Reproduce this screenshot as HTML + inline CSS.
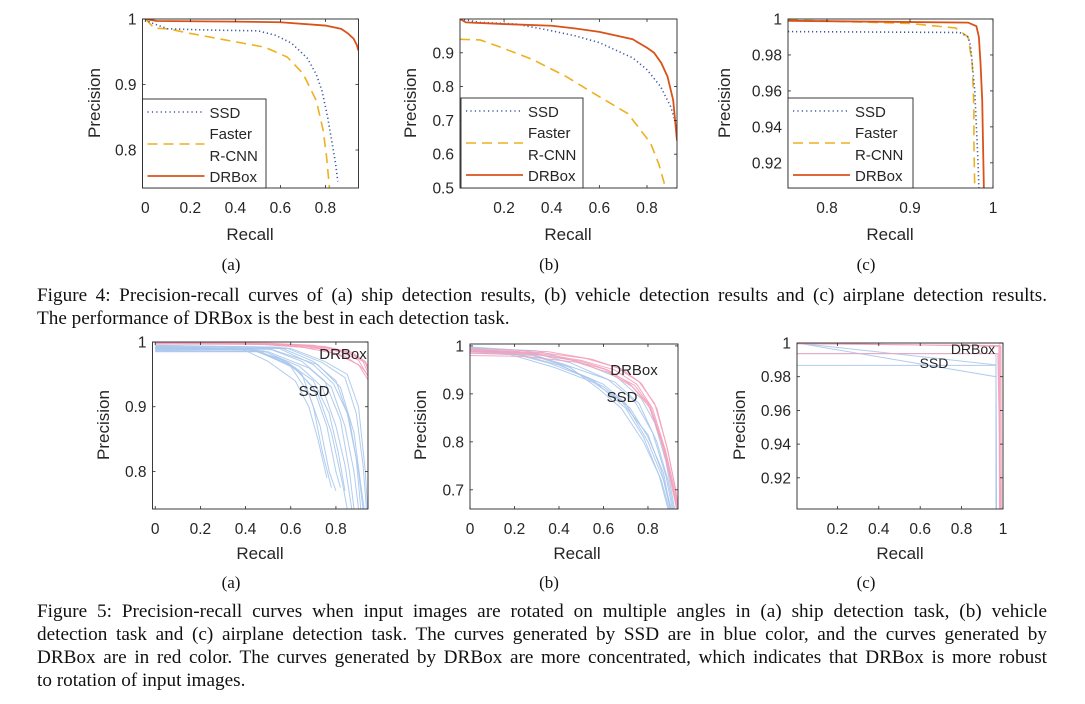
<!DOCTYPE html>
<html><head><meta charset="utf-8">
<style>
body{margin:0;background:#fff;width:1085px;height:704px;overflow:hidden;position:relative;font-family:"Liberation Serif",serif;}
svg{position:absolute;left:0;top:0}
.cap{position:absolute;left:37px;width:1010px;font-size:19.2px;line-height:23px;color:#111;font-family:"Liberation Serif",serif;}
.cap div{text-align:justify;text-align-last:justify;white-space:nowrap;}
.cap div.last{text-align-last:left}
</style></head>
<body>
<svg id="fig" width="1085" height="704"></svg>
<div class="cap" style="top:284px">
<div>Figure 4: Precision-recall curves of (a) ship detection results, (b) vehicle detection results and (c) airplane detection results.</div>
<div class="last">The performance of DRBox is the best in each detection task.</div>
</div>
<div class="cap" style="top:600px">
<div>Figure 5: Precision-recall curves when input images are rotated on multiple angles in (a) ship detection task, (b) vehicle</div>
<div>detection task and (c) airplane detection task. The curves generated by SSD are in blue color, and the curves generated by</div>
<div>DRBox are in red color. The curves generated by DRBox are more concentrated, which indicates that DRBox is more robust</div>
<div class="last">to rotation of input images.</div>
</div>
<script>
// ---- Figure 4 data ----
const ssdA = [[0,1],[0.02,0.995],[0.1,0.985],[0.3,0.983],[0.5,0.982],[0.58,0.975],[0.65,0.963],[0.72,0.94],[0.76,0.915],[0.785,0.89],[0.81,0.85],[0.83,0.81],[0.845,0.78],[0.855,0.752]];
const fasterA = [[0,1],[0.02,0.993],[0.04,0.986],[0.1,0.985],[0.2,0.978],[0.34,0.969],[0.53,0.957],[0.63,0.942],[0.7,0.917],[0.76,0.875],[0.79,0.83],[0.805,0.79],[0.818,0.742]];
const drboxA = [[0,1],[0.05,0.997],[0.4,0.996],[0.6,0.995],[0.8,0.99],[0.87,0.985],[0.9,0.978],[0.925,0.97],[0.94,0.96],[0.946,0.952]];
const ssdB = [[0.015,1.0],[0.1,0.99],[0.25,0.985],[0.38,0.968],[0.5,0.95],[0.6,0.93],[0.74,0.885],[0.8,0.85],[0.857,0.8],[0.9,0.74],[0.926,0.68]];
const fasterB = [[0.015,0.94],[0.1,0.938],[0.18,0.918],[0.32,0.88],[0.46,0.83],[0.6,0.77],[0.72,0.72],[0.815,0.633],[0.85,0.57],[0.878,0.5]];
const drboxB = [[0.015,1.0],[0.04,0.99],[0.2,0.985],[0.4,0.98],[0.5,0.972],[0.6,0.962],[0.74,0.94],[0.8,0.915],[0.83,0.9],[0.86,0.87],[0.886,0.83],[0.91,0.76],[0.926,0.64]];
const ssdC = [[0.753,0.993],[0.96,0.9925],[0.97,0.99],[0.973,0.985],[0.975,0.975],[0.978,0.96],[0.98,0.94],[0.982,0.92],[0.983,0.906]];
const fasterC = [[0.753,0.9995],[0.9,0.9975],[0.955,0.995],[0.97,0.99],[0.975,0.975],[0.977,0.95],[0.977,0.93],[0.978,0.906]];
const drboxC = [[0.753,0.999],[0.97,0.998],[0.98,0.996],[0.983,0.99],[0.985,0.975],[0.987,0.955],[0.988,0.93],[0.989,0.906]];
// ---- Figure 5 data ----
const rotSsdA = [
 [[0,0.99],[0.4,0.99],[0.55,0.975],[0.65,0.95],[0.7,0.9],[0.74,0.83],[0.78,0.775]],
 [[0,0.985],[0.45,0.985],[0.6,0.965],[0.7,0.93],[0.76,0.87],[0.8,0.8],[0.82,0.775]],
 [[0,0.992],[0.5,0.99],[0.65,0.97],[0.75,0.94],[0.82,0.88],[0.86,0.8],[0.88,0.742]],
 [[0,0.995],[0.55,0.992],[0.7,0.97],[0.8,0.94],[0.86,0.88],[0.9,0.8],[0.92,0.742]],
 [[0,0.988],[0.45,0.988],[0.62,0.96],[0.72,0.92],[0.78,0.86],[0.83,0.78],[0.85,0.742]],
 [[0,0.99],[0.6,0.99],[0.75,0.97],[0.85,0.95],[0.9,0.9],[0.93,0.8],[0.94,0.742]],
 [[0,0.993],[0.38,0.99],[0.5,0.97],[0.62,0.94],[0.68,0.9],[0.72,0.85],[0.76,0.79]],
 [[0,0.987],[0.5,0.985],[0.68,0.96],[0.78,0.93],[0.84,0.87],[0.88,0.8],[0.9,0.742]],
 [[0,0.991],[0.42,0.989],[0.58,0.97],[0.7,0.94],[0.77,0.89],[0.81,0.83],[0.84,0.77]],
 [[0,0.989],[0.52,0.988],[0.72,0.965],[0.82,0.93],[0.88,0.86],[0.91,0.78],[0.925,0.742]],
 [[0,0.986],[0.48,0.986],[0.64,0.962],[0.74,0.93],[0.8,0.87],[0.84,0.81],[0.87,0.742]],
 [[0,0.994],[0.58,0.991],[0.74,0.968],[0.84,0.945],[0.89,0.89],[0.92,0.81],[0.935,0.742]],
 [[0,0.99],[0.44,0.988],[0.6,0.962],[0.68,0.92],[0.73,0.87],[0.77,0.8],[0.8,0.77]],
 [[0,0.992],[0.55,0.99],[0.7,0.965],[0.79,0.935],[0.85,0.89],[0.89,0.82],[0.91,0.742]]
];
const rotDrA = [
 [[0,1],[0.5,0.998],[0.7,0.995],[0.85,0.985],[0.92,0.97],[0.945,0.95]],
 [[0,0.999],[0.45,0.997],[0.68,0.993],[0.82,0.985],[0.9,0.972],[0.945,0.945]],
 [[0,0.998],[0.55,0.997],[0.75,0.993],[0.87,0.984],[0.93,0.97],[0.945,0.96]],
 [[0,1],[0.4,0.998],[0.65,0.992],[0.8,0.982],[0.9,0.965],[0.945,0.94]],
 [[0,0.997],[0.6,0.996],[0.78,0.99],[0.88,0.98],[0.93,0.968],[0.945,0.955]],
 [[0,0.999],[0.5,0.996],[0.72,0.99],[0.84,0.978],[0.91,0.962],[0.945,0.948]]
];
const rotSsdB = [
 [[0,0.995],[0.2,0.985],[0.4,0.96],[0.6,0.92],[0.7,0.88],[0.8,0.8],[0.87,0.72],[0.9,0.66]],
 [[0,0.99],[0.2,0.983],[0.35,0.965],[0.55,0.93],[0.7,0.87],[0.78,0.81],[0.85,0.73],[0.89,0.66]],
 [[0,0.998],[0.25,0.99],[0.45,0.965],[0.62,0.93],[0.74,0.885],[0.82,0.82],[0.88,0.73],[0.91,0.66]],
 [[0,0.985],[0.3,0.98],[0.45,0.955],[0.58,0.91],[0.68,0.87],[0.78,0.8],[0.86,0.72],[0.895,0.66]],
 [[0,0.993],[0.22,0.988],[0.42,0.962],[0.65,0.925],[0.76,0.88],[0.84,0.8],[0.89,0.72],[0.915,0.66]],
 [[0,0.988],[0.18,0.982],[0.38,0.955],[0.55,0.925],[0.68,0.885],[0.8,0.815],[0.86,0.74],[0.905,0.66]],
 [[0,0.996],[0.3,0.99],[0.5,0.965],[0.66,0.935],[0.77,0.89],[0.83,0.84],[0.88,0.76],[0.92,0.66]],
 [[0,0.99],[0.25,0.985],[0.4,0.962],[0.6,0.915],[0.72,0.87],[0.8,0.81],[0.87,0.735],[0.9,0.66]]
];
const rotDrB = [
 [[0,0.99],[0.3,0.985],[0.5,0.97],[0.65,0.95],[0.75,0.92],[0.82,0.87],[0.88,0.78],[0.92,0.7],[0.935,0.66]],
 [[0,0.985],[0.3,0.982],[0.5,0.968],[0.62,0.95],[0.72,0.92],[0.8,0.88],[0.87,0.79],[0.91,0.7],[0.93,0.66]],
 [[0,0.995],[0.35,0.988],[0.55,0.972],[0.68,0.952],[0.77,0.922],[0.84,0.87],[0.89,0.78],[0.925,0.7],[0.938,0.66]],
 [[0,0.98],[0.25,0.978],[0.48,0.966],[0.62,0.945],[0.73,0.915],[0.81,0.87],[0.86,0.8],[0.91,0.71],[0.928,0.66]],
 [[0,0.992],[0.32,0.986],[0.52,0.974],[0.66,0.955],[0.76,0.925],[0.83,0.88],[0.885,0.79],[0.92,0.71],[0.936,0.66]],
 [[0,0.988],[0.28,0.984],[0.46,0.97],[0.6,0.952],[0.74,0.918],[0.81,0.875],[0.875,0.785],[0.915,0.7],[0.932,0.66]]
];
const rotSsdC = [
 [[0.005,1.0],[0.966,0.98],[0.966,0.9]],
 [[0.005,1.0],[0.966,0.987],[0.968,0.9]],
 [[0.005,0.9937],[0.966,0.9937],[0.967,0.9]],
 [[0.005,0.9867],[0.966,0.9867],[0.969,0.9]]
];
const rotDrC = [
 [[0.005,1.0],[0.985,1.0],[0.986,0.9]],
 [[0.005,0.9937],[0.975,0.9937],[0.99,0.9]],
 [[0.005,1.0],[0.99,0.998],[0.992,0.9]],
 [[0.005,0.9995],[0.98,0.9985],[0.983,0.9]]
];
const ticksX_A = [0,0.2,0.4,0.6,0.8];
const ticksX_B = [0.2,0.4,0.6,0.8];
const ticksX_C = [0.8,0.9,1];
const ticksY_A = [0.8,0.9,1];
const ticksY_B = [0.5,0.6,0.7,0.8,0.9];
const ticksY_C = [0.92,0.94,0.96,0.98,1];
const ticksX_R = [0,0.2,0.4,0.6,0.8];
const ticksX_RC = [0.2,0.4,0.6,0.8,1];
const ticksY_RA = [0.8,0.9,1];
const ticksY_RB = [0.7,0.8,0.9,1];
const ticksY_RC = [0.92,0.94,0.96,0.98,1];

const NS='http://www.w3.org/2000/svg';
const svg=document.getElementById('fig');
function mk(tag,attrs,parent){const e=document.createElementNS(NS,tag);for(const k in attrs)e.setAttribute(k,attrs[k]);(parent||svg).appendChild(e);return e;}
const TXT='#262626';
function panel(name,L,R,T,B,xd,yd,xt,yt){
  const g=mk('g',{});
  
  
  const sx=v=>L+(v-xd[0])/(xd[1]-xd[0])*(R-L);
  const sy=v=>B-(v-yd[0])/(yd[1]-yd[0])*(B-T);
  const clipId=name+'-clip';
  const cp=mk('clipPath',{id:clipId},g);mk('rect',{x:L,y:T,width:R-L,height:B-T},cp);
  const plot=mk('g',{'clip-path':'url(#'+clipId+')'},g);
  return {g,plot,sx,sy,L,R,T,B,xt,yt,name};
}
function frame(p,fmtX,fmtY){
  const {g,sx,sy,L,R,T,B}=p;
  mk('rect',{x:L,y:T,width:R-L,height:B-T,fill:'none',stroke:TXT,'stroke-width':0.9},g);
  p.xt.forEach(v=>{const x=sx(v);
    mk('line',{x1:x,x2:x,y1:B,y2:B-3,stroke:TXT,'stroke-width':0.8},g);
    mk('line',{x1:x,x2:x,y1:T,y2:T+3,stroke:TXT,'stroke-width':0.8},g);
    const t=mk('text',{x:x,y:B+25,'text-anchor':'middle','font-size':15.5,fill:TXT,'font-family':'Liberation Sans, sans-serif'},g);
    t.textContent=fmtX(v);
    
    
  });
  p.yt.forEach(v=>{const y=sy(v);
    mk('line',{x1:L,x2:L+3,y1:y,y2:y,stroke:TXT,'stroke-width':0.8},g);
    mk('line',{x1:R,x2:R-3,y1:y,y2:y,stroke:TXT,'stroke-width':0.8},g);
    const t=mk('text',{x:L-6,y:y+5.5,'text-anchor':'end','font-size':15.5,fill:TXT,'font-family':'Liberation Sans, sans-serif'},g);
    t.textContent=fmtY(v);
    
    
  });
}
function fmt(v){return String(+v.toFixed(2));}
function line(p,data,attrs,nm){
  const d=data.map((q,i)=>(i?'L':'M')+p.sx(q[0]).toFixed(2)+','+p.sy(q[1]).toFixed(2)).join('');
  const e=mk('path',Object.assign({d:d,fill:'none'},attrs),p.plot);
  
  
  return e;
}
function label(x,y,s,nm,rot,size){
  const t=mk('text',{x:x,y:y,'text-anchor':'middle','font-size':size||17,fill:TXT,'font-family':'Liberation Sans, sans-serif'});
  if(rot)t.setAttribute('transform','rotate(-90 '+x+' '+y+')');
  t.textContent=s;
  
  
}
function sub(x,y,s){const t=mk('text',{x:x,y:y,'text-anchor':'middle','font-size':17,fill:'#111','font-family':'Liberation Serif, serif'});t.textContent=s;
  
  }
function legend(p,L,T,R,B){
  const g=mk('g',{});
  
  
  mk('rect',{x:L,y:T,width:R-L,height:B-T,fill:'#fff',stroke:TXT,'stroke-width':0.9},g);
  const x1=L+5,x2=L+62,tx=L+67;
  mk('line',{x1,x2,y1:T+13,y2:T+13,stroke:'#3b5a9d','stroke-width':1.6,'stroke-dasharray':'1.2 3.2'},g);
  mk('line',{x1,x2,y1:T+45,y2:T+45,stroke:'#edb120','stroke-width':1.6,'stroke-dasharray':'10 6'},g);
  mk('line',{x1,x2,y1:T+77,y2:T+77,stroke:'#d95319','stroke-width':1.8},g);
  [['SSD',T+19],['Faster',T+40],['R-CNN',T+62],['DRBox',T+83]].forEach(a=>{
    const t=mk('text',{x:tx,y:a[1],'font-size':15,fill:TXT,'font-family':'Liberation Sans, sans-serif'},g);t.textContent=a[0];
    
    
  });
}
const SS={stroke:'#3b5a9d','stroke-width':1.6,'stroke-dasharray':'1.2 2.8'};
const FS={stroke:'#edb120','stroke-width':1.6,'stroke-dasharray':'10 6'};
const DS={stroke:'#d95319','stroke-width':1.8};
const BS={stroke:'#a9c7ec','stroke-width':1,'stroke-opacity':0.9};
const RS={stroke:'#f4a0ba','stroke-width':1,'stroke-opacity':0.9};

// Figure 4
let p=panel('pr-ship',142.5,358.5,19,188,[-0.0125,0.947],[0.742,1.0],ticksX_A,ticksY_A);
line(p,fasterA,FS,'faster-rcnn-curve');line(p,ssdA,SS,'ssd-curve');line(p,drboxA,DS,'drbox-curve');
frame(p,fmt,fmt);legend(p,142.5,99,266,188);
label(100,103,'Precision','y-axis-title',true);label(250,240,'Recall','x-axis-title');sub(231,270,'(a)');

p=panel('pr-vehicle',460,677,19,188,[0.015,0.926],[0.5,1.0],ticksX_B,ticksY_B);
line(p,fasterB,FS,'faster-rcnn-curve');line(p,ssdB,SS,'ssd-curve');line(p,drboxB,DS,'drbox-curve');
frame(p,fmt,fmt);legend(p,461,98,583,188);
label(416,103,'Precision','y-axis-title',true);label(568,240,'Recall','x-axis-title');sub(549,270,'(b)');

p=panel('pr-airplane',788,993,19,188,[0.753,1.0],[0.906,1.0],ticksX_C,ticksY_C);
line(p,fasterC,FS,'faster-rcnn-curve');line(p,ssdC,SS,'ssd-curve');line(p,drboxC,DS,'drbox-curve');
frame(p,fmt,fmt);legend(p,788,98,913,188);
label(730,103,'Precision','y-axis-title',true);label(890,240,'Recall','x-axis-title');sub(866,270,'(c)');

// Figure 5
p=panel('rot-ship',152.5,368,342,509,[-0.012,0.942],[0.742,1.0],ticksX_R,ticksY_RA);
rotSsdA.forEach(c=>line(p,c,BS,'ssd-rotation-curve'));rotDrA.forEach(c=>line(p,c,RS,'drbox-rotation-curve'));
frame(p,fmt,fmt);
label(343,359,'DRBox','drbox-annotation',false,15);label(314,396,'SSD','ssd-annotation',false,15);
label(109,425,'Precision','y-axis-title',true);label(260,559,'Recall','x-axis-title');sub(231,588,'(a)');

p=panel('rot-vehicle',470,678,344,509,[0,0.935],[0.66,1.004],ticksX_R,ticksY_RB);
rotSsdB.forEach(c=>line(p,c,BS,'ssd-rotation-curve'));rotDrB.forEach(c=>line(p,c,RS,'drbox-rotation-curve'));
frame(p,fmt,fmt);
label(634,375,'DRBox','drbox-annotation',false,15);label(622,402,'SSD','ssd-annotation',false,15);
label(426,425,'Precision','y-axis-title',true);label(577,559,'Recall','x-axis-title');sub(549,588,'(b)');

p=panel('rot-airplane',797,1003,343,509,[0.005,1.0],[0.9015,1.0],ticksX_RC,ticksY_RC);
rotSsdC.forEach(c=>line(p,c,BS,'ssd-rotation-curve'));rotDrC.forEach(c=>line(p,c,RS,'drbox-rotation-curve'));
frame(p,fmt,fmt);
label(973,354,'DRBox','drbox-annotation',false,14);label(934,368,'SSD','ssd-annotation',false,14);
label(745,425,'Precision','y-axis-title',true);label(900,559,'Recall','x-axis-title');sub(866,588,'(c)');
</script>
</body></html>
